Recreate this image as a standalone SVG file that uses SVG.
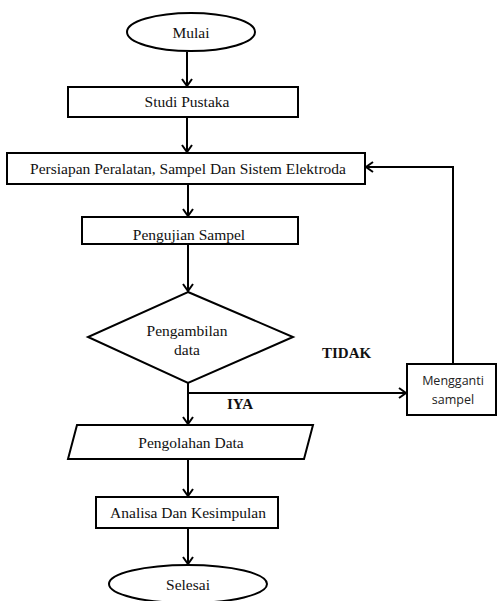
<svg xmlns="http://www.w3.org/2000/svg" width="498" height="601" viewBox="0 0 498 601">
<style>
.s{fill:#fff;stroke:#000;stroke-width:2}
.t{font-family:"Liberation Serif","Times New Roman",serif;font-size:15.5px;fill:#111;text-anchor:middle}
.c{fill:none;stroke:#000;stroke-width:2}
.b{font-family:"Liberation Serif","Times New Roman",serif;font-size:15px;font-weight:bold;fill:#111}
.m{font-family:"Open Sans","Liberation Sans",sans-serif;font-size:12.5px;fill:#222;text-anchor:middle}
</style>
<defs>
<marker id="a" markerWidth="12" markerHeight="12" refX="9" refY="6" orient="auto" markerUnits="userSpaceOnUse">
<path d="M2,1 L9,6 L2,11" fill="none" stroke="#000" stroke-width="2"/>
</marker>
</defs>
<rect width="498" height="601" fill="#fff"/>
<g id="connectors">
<path class="c" d="M187,52 V86" marker-end="url(#a)"/>
<path class="c" d="M187,117 V152" marker-end="url(#a)"/>
<path class="c" d="M188,184 V216" marker-end="url(#a)"/>
<path class="c" d="M188,244 V291" marker-end="url(#a)"/>
<path class="c" d="M188,383 V424" marker-end="url(#a)"/>
<path class="c" d="M188,393 H406" marker-end="url(#a)"/>
<path class="c" d="M453,364 V167 H366" marker-end="url(#a)"/>
<path class="c" d="M188,459 V496" marker-end="url(#a)"/>
<path class="c" d="M188,528 V564" marker-end="url(#a)"/>
</g>
<g id="mulai"><ellipse class="s" cx="191" cy="32" rx="64" ry="19"/><text class="t" x="191" y="38">Mulai</text></g>
<g id="studi"><rect class="s" x="68" y="87" width="230" height="30"/><text class="t" x="187" y="107">Studi Pustaka</text></g>
<g id="persiapan"><rect class="s" x="7" y="153" width="358" height="31"/><text class="t" x="188" y="174">Persiapan Peralatan, Sampel Dan Sistem Elektroda</text></g>
<g id="pengujian"><rect class="s" x="82" y="217" width="216" height="27"/><text class="t" x="189" y="240">Pengujian Sampel</text></g>
<g id="pengambilan"><polygon class="s" points="188,292 293,337 188,383 88,337"/><text class="t" x="187" y="336">Pengambilan</text><text class="t" x="187" y="355">data</text></g>
<g id="mengganti"><rect class="s" x="407" y="364" width="89" height="51"/><text class="m" x="453" y="385">Mengganti</text><text class="m" x="453" y="404">sampel</text></g>
<g id="pengolahan"><polygon class="s" points="77,425 313,425 304,459 68,459"/><text class="t" x="191" y="448">Pengolahan Data</text></g>
<g id="analisa"><rect class="s" x="96" y="497" width="182" height="31"/><text class="t" x="188" y="518">Analisa Dan Kesimpulan</text></g>
<g id="selesai"><ellipse class="s" cx="188" cy="584" rx="79" ry="19"/><text class="t" x="188" y="590">Selesai</text></g>
<text class="b" x="322" y="358">TIDAK</text>
<text class="b" x="227" y="409">IYA</text>
</svg>
